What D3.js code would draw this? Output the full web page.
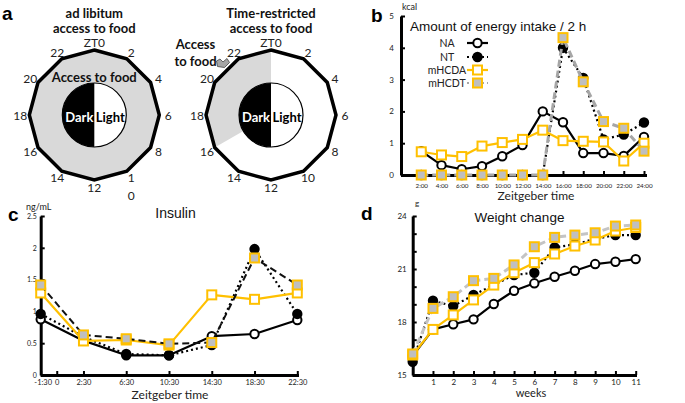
<!DOCTYPE html>
<html>
<head>
<meta charset="utf-8">
<script src="https://cdn.jsdelivr.net/npm/d3@7"></script>
<style>
  body { margin: 0; background: #fff; }
  svg { display: block; }
  text { font-family: Lato, "Open Sans", sans-serif; }
</style>
</head>
<body>
<svg id="fig" width="685" height="403"></svg>
<script>
// ---- data ----
const ztLabelsAdLib = ["ZT0", "2", "4", "6", "8", "1\n0", "12", "14", "16", "18", "20", "22"];
const ztLabelsRestricted = ["ZT0", "2", "4", "6", "8", "10", "12", "14", "16", "18", "20", "22"];
const restrictedWindow = [16, 24];

const seriesNames = ["NA", "NT", "mHCDA", "mHCDT"];

// b: energy intake per 2 h (kcal)
const intakeHours = [2, 4, 6, 8, 10, 12, 14, 16, 18, 20, 22, 24];
const intakeNA    = [0.75, 0.31, 0.18, 0.28, 0.59, 0.94, 2.0, 1.66, 0.69, 0.69, 0.6, 1.2];
const intakeNT    = [0, 0, 0, 0, 0, 0, 0, 4.0, 3.05, 1.12, 1.27, 1.65];
const intakeMHCDA = [0.73, 0.63, 0.58, 0.91, 1.02, 1.12, 1.41, 1.08, 1.06, 1.04, 0.44, 1.0];
const intakeMHCDT = [0, 0, 0, 0, 0, 0, 0, 4.32, 2.93, 1.68, 1.47, 0.75];

// c: insulin (ng/mL)
const insulinHours = [-1.5, 2.5, 6.5, 10.5, 14.5, 18.5, 22.5];
const insulinTicks = [-1.5, 0, 2.5, 6.5, 10.5, 14.5, 18.5, 22.5];
const insulinTickLabels = ["-1:30", "0", "2:30", "6:30", "10:30", "14:30", "18:30", "22:30"];
const insulinNA    = [0.875, 0.54, 0.31, 0.31, 0.61, 0.645, 0.865];
const insulinNT    = [0.96, 0.6, 0.33, 0.31, 0.47, 1.98, 0.96];
const insulinMHCDA = [1.29, 0.535, 0.55, 0.47, 1.26, 1.19, 1.29];
const insulinMHCDT = [1.415, 0.63, 0.57, 0.49, 0.51, 1.84, 1.415];

// d: body weight (g)
const weeks = [0, 1, 2, 3, 4, 5, 6, 7, 8, 9, 10, 11];
const weightNA    = [16.08, 17.58, 17.87, 18.15, 19.02, 19.77, 20.19, 20.56, 20.9, 21.28, 21.41, 21.56];
const weightNT    = [15.75, 19.2, 18.9, 19.53, 20.1, 20.66, 20.79, 22.22, 22.4, 22.7, 22.92, 22.92];
const weightMHCDA = [16.13, 17.58, 18.4, 19.25, 20.09, 20.79, 21.36, 21.85, 22.3, 22.64, 23.15, 23.35];
const weightMHCDT = [16.19, 18.77, 19.43, 20.34, 20.47, 21.23, 22.26, 22.79, 22.92, 23.05, 23.43, 23.49];

// ---- styles ----
const GOLD = "#ffc000";
const baseStyle = {
  NA:    { stroke: "#000", width: 2.2, dash: null, marker: "circle", fill: "#fff", mstroke: "#000" },
  NT:    { stroke: "#000", width: 2.2, dash: "2,3", marker: "circle", fill: "#000", mstroke: "#000" },
  mHCDA: { stroke: GOLD, width: 2.2, dash: null, marker: "square", fill: "#fff", mstroke: GOLD },
  mHCDT: { stroke: "#a6a6a6", width: 3, dash: "7,4", marker: "square", fill: "#bfbfbf", mstroke: GOLD }
};

const svg = d3.select("#fig");
svg.append("rect").attr("width", 685).attr("height", 403).attr("fill", "#fff");

function panelLetter(t, x, y) {
  svg.append("text").attr("x", x).attr("y", y).text(t)
    .style("font-family", "'Liberation Sans', Arial, sans-serif")
    .attr("font-weight", "bold").attr("font-size", 19);
}

function drawMarker(g, px, py, st) {
  if (st.marker === "circle") {
    g.append("circle").attr("cx", px).attr("cy", py).attr("r", 4.2)
      .attr("fill", st.fill).attr("stroke", st.mstroke).attr("stroke-width", 2);
  } else {
    g.append("rect").attr("x", px - 4.5).attr("y", py - 4.5).attr("width", 9).attr("height", 9)
      .attr("fill", st.fill).attr("stroke", st.mstroke).attr("stroke-width", 2);
  }
}

function drawSeries(g, x, y, xs, vals, st) {
  const line = d3.line().x((d, i) => x(xs[i])).y(d => y(d));
  g.append("path").datum(vals).attr("d", line)
    .attr("fill", "none").attr("stroke", st.stroke).attr("stroke-width", st.width)
    .attr("stroke-dasharray", st.dash).attr("stroke-linejoin", "round");
  vals.forEach((v, i) => drawMarker(g, x(xs[i]), y(v), st));
}

function styleAxis(g) {
  g.select(".domain").attr("stroke", "#000").attr("stroke-width", 3);
  g.selectAll(".tick line").attr("stroke", "#000").attr("stroke-width", 2);
  g.selectAll(".tick text").attr("fill", "#222").style("font-family", "Lato, sans-serif");
}

// ---- panel a: feeding schedules ----
function drawClock(cx, cy, labels, win, titles) {
  const R = 65;
  const g = svg.append("g");
  const vert = h => [cx + R * Math.sin(h / 24 * 2 * Math.PI), cy - R * Math.cos(h / 24 * 2 * Math.PI)];
  const poly = d3.range(0, 24, 2).map(vert);
  const line = d3.line().curve(d3.curveLinearClosed);
  if (win) {
    g.append("path").attr("d", line(poly)).attr("fill", "#fff");
    const wedge = [[cx, cy]].concat(d3.range(win[0], win[1] + 1, 2).map(vert));
    g.append("path").attr("d", line(wedge)).attr("fill", "#d9d9d9");
  } else {
    g.append("path").attr("d", line(poly)).attr("fill", "#d9d9d9");
  }
  g.append("path").attr("d", line(poly)).attr("fill", "none")
    .attr("stroke", "#000").attr("stroke-width", 3.5).attr("stroke-linejoin", "miter");

  // inner light/dark disc
  g.append("circle").attr("cx", cx).attr("cy", cy).attr("r", 32)
    .attr("fill", "#fff").attr("stroke", "#000").attr("stroke-width", 1.2);
  g.append("path").attr("transform", `translate(${cx},${cy})`)
    .attr("d", d3.arc()({ innerRadius: 0, outerRadius: 32, startAngle: Math.PI, endAngle: 2 * Math.PI }))
    .attr("fill", "#000");
  g.append("text").attr("x", cx - 15).attr("y", cy + 7).attr("text-anchor", "middle")
    .attr("font-weight", "bold").attr("font-size", 13).attr("fill", "#fff").text("Dark");
  g.append("text").attr("x", cx + 16).attr("y", cy + 7).attr("text-anchor", "middle")
    .attr("font-weight", "bold").attr("font-size", 13).attr("fill", "#000").text("Light");

  // hour labels
  labels.forEach((lab, k) => {
    const a = k * 2 / 24 * 2 * Math.PI;
    const lx = cx + (R + 9) * Math.sin(a), ly = cy - (R + 7.5) * Math.cos(a);
    const parts = lab.split("\n");
    const t = g.append("text").attr("text-anchor", "middle").attr("font-size", 12).attr("fill", "#222");
    parts.forEach((p, j) => t.append("tspan").attr("x", lx).attr("y", ly + 4.5 + j * 18).text(p));
  });

  titles.forEach((s, j) => {
    g.append("text").attr("x", cx).attr("y", 18 + j * 14.5).attr("text-anchor", "middle")
      .attr("font-weight", "bold").attr("font-size", 13).attr("fill", "#111").text(s);
  });
  return g;
}

panelLetter("a", 2, 20);
const clockL = drawClock(94.3, 115, ztLabelsAdLib, null, ["ad libitum", "access to food"]);
clockL.append("text").attr("x", 94.3).attr("y", 82).attr("text-anchor", "middle")
  .attr("font-weight", "bold").attr("font-size", 13).attr("fill", "#111").text("Access to food");

const clockR = drawClock(271, 115, ztLabelsRestricted, restrictedWindow, ["Time-restricted", "access to food"]);
clockR.append("text").attr("x", 195.5).attr("y", 49).attr("text-anchor", "middle")
  .attr("font-weight", "bold").attr("font-size", 13).attr("fill", "#111").text("Access");
clockR.append("text").attr("x", 195.5).attr("y", 66).attr("text-anchor", "middle")
  .attr("font-weight", "bold").attr("font-size", 13).attr("fill", "#111").text("to food");
clockR.append("path")
  .attr("d", "M216.5,61 L220,59 L223,62 L227,58.5 L229.5,62.5 L224.5,67.5 L217.5,66.5 Z")
  .attr("fill", "#a6a6a6").attr("stroke", "#444").attr("stroke-width", 0.8);

// ---- panel b: energy intake ----
{
  const x = d3.scaleLinear().domain([0, 24]).range([401, 644]);
  const y = d3.scaleLinear().domain([0, 5]).range([175, 16]);
  const g = svg.append("g");
  const gx = g.append("g").attr("transform", "translate(0,175)")
    .call(d3.axisBottom(x).tickValues(intakeHours).tickFormat(h => h + ":00")
      .tickSizeInner(-4).tickSizeOuter(0).tickPadding(9));
  gx.select(".domain").attr("d", "M401,0.5H647");
  styleAxis(gx);
  gx.selectAll(".tick text").attr("font-size", 6.3);
  const gy = g.append("g").attr("transform", "translate(401,0)")
    .call(d3.axisLeft(y).ticks(5).tickFormat(d3.format("d"))
      .tickSizeInner(-4).tickSizeOuter(0).tickPadding(7));
  styleAxis(gy);
  gy.selectAll(".tick text").attr("font-size", 8);

  const vals = { NA: intakeNA, NT: intakeNT, mHCDA: intakeMHCDA, mHCDT: intakeMHCDT };
  seriesNames.forEach(n => drawSeries(g, x, y, intakeHours, vals[n], baseStyle[n]));

  panelLetter("b", 371, 22);
  g.append("text").attr("x", 402).attr("y", 10).attr("font-size", 9).attr("fill", "#222").text("kcal");
  g.append("text").attr("x", 410).attr("y", 31).attr("font-size", 13.5)
    .style("font-family", "'Liberation Sans', Arial, sans-serif").attr("fill", "#111")
    .text("Amount of energy intake / 2 h");
  g.append("text").attr("x", 536).attr("y", 200).attr("text-anchor", "middle")
    .attr("font-size", 12).attr("fill", "#222").text("Zeitgeber time");

  // legend
  const rows = [43, 57, 70, 83];
  seriesNames.forEach((n, i) => {
    const st = Object.assign({}, baseStyle[n]);
    if (n === "mHCDT") { st.dash = "2,3"; st.width = 2.2; }
    g.append("text").attr("x", 447).attr("y", rows[i] + 4).attr("text-anchor", "middle")
      .attr("font-size", 10.5).attr("fill", "#222").text(n);
    g.append("line").attr("x1", 467).attr("x2", 488).attr("y1", rows[i]).attr("y2", rows[i])
      .attr("stroke", st.stroke).attr("stroke-width", st.width).attr("stroke-dasharray", st.dash);
    drawMarker(g, 477.5, rows[i], st);
  });
}

// ---- panel c: insulin ----
{
  const x = d3.scaleLinear().domain([-1.5, 22.5]).range([40.7, 297.3]);
  const y = d3.scaleLinear().domain([0, 2.5]).range([375, 216]);
  const g = svg.append("g");
  const gx = g.append("g").attr("transform", "translate(0,375)")
    .call(d3.axisBottom(x).tickValues(insulinTicks).tickFormat((d, i) => insulinTickLabels[i])
      .tickSizeInner(-4).tickSizeOuter(0).tickPadding(5));
  gx.select(".domain").attr("d", "M40.7,0.5H299");
  styleAxis(gx);
  gx.selectAll(".tick text").attr("font-size", 7.5);
  gx.selectAll(".tick text").filter(d => d === -1.5).attr("dx", 2);
  const gy = g.append("g").attr("transform", "translate(40.7,0)")
    .call(d3.axisLeft(y).tickValues([0, 0.5, 1, 1.5, 2, 2.5]).tickFormat(d => String(d))
      .tickSizeInner(-4).tickSizeOuter(0).tickPadding(4));
  styleAxis(gy);
  gy.selectAll(".tick text").attr("font-size", 7);

  const vals = { NA: insulinNA, NT: insulinNT, mHCDA: insulinMHCDA, mHCDT: insulinMHCDT };
  const stC = Object.assign({}, baseStyle, {
    mHCDT: Object.assign({}, baseStyle.mHCDT, { stroke: "#111", width: 2, dash: "7,4" })
  });
  seriesNames.forEach(n => drawSeries(g, x, y, insulinHours, vals[n], stC[n]));

  panelLetter("c", 8, 221);
  g.append("text").attr("x", 26).attr("y", 210).attr("font-size", 9).attr("fill", "#222").text("ng/mL");
  g.append("text").attr("x", 175.5).attr("y", 218).attr("text-anchor", "middle").attr("font-size", 14)
    .style("font-family", "'Liberation Sans', Arial, sans-serif").attr("fill", "#111").text("Insulin");
  g.append("text").attr("x", 170).attr("y", 399).attr("text-anchor", "middle")
    .attr("font-size", 12).attr("fill", "#222").text("Zeitgeber time");
}

// ---- panel d: weight change ----
{
  const x = d3.scaleLinear().domain([0, 11]).range([412.7, 635.7]);
  const y = d3.scaleLinear().domain([15, 24]).range([375, 216]);
  const g = svg.append("g");
  const gx = g.append("g").attr("transform", "translate(0,375)")
    .call(d3.axisBottom(x).tickValues(weeks.slice(1)).tickFormat(d3.format("d"))
      .tickSizeInner(-4).tickSizeOuter(0).tickPadding(4));
  gx.select(".domain").attr("d", "M412.7,0.5H637");
  styleAxis(gx);
  gx.selectAll(".tick text").attr("font-size", 8);
  const gy = g.append("g").attr("transform", "translate(412.7,0)")
    .call(d3.axisLeft(y).tickValues(d3.range(15, 25, 1)).tickFormat(d => d % 3 === 0 ? d : "")
      .tickSizeInner(-4).tickSizeOuter(0).tickPadding(6));
  styleAxis(gy);
  gy.selectAll(".tick text").attr("font-size", 8);

  const vals = { NA: weightNA, NT: weightNT, mHCDA: weightMHCDA, mHCDT: weightMHCDT };
  const stD = Object.assign({}, baseStyle, {
    mHCDT: Object.assign({}, baseStyle.mHCDT, { stroke: "#c4c4c4", width: 3, dash: "7,4" })
  });
  seriesNames.forEach(n => drawSeries(g, x, y, weeks, vals[n], stD[n]));

  panelLetter("d", 361, 220);
  g.append("text").attr("x", 415).attr("y", 206).attr("font-size", 8).attr("fill", "#222").text("g");
  g.append("text").attr("x", 519.5).attr("y", 222).attr("text-anchor", "middle").attr("font-size", 13.5)
    .style("font-family", "'Liberation Sans', Arial, sans-serif").attr("fill", "#111").text("Weight change");
  g.append("text").attr("x", 531).attr("y", 397).attr("text-anchor", "middle")
    .attr("font-size", 11).attr("fill", "#222").text("weeks");
}
</script>
</body>
</html>
